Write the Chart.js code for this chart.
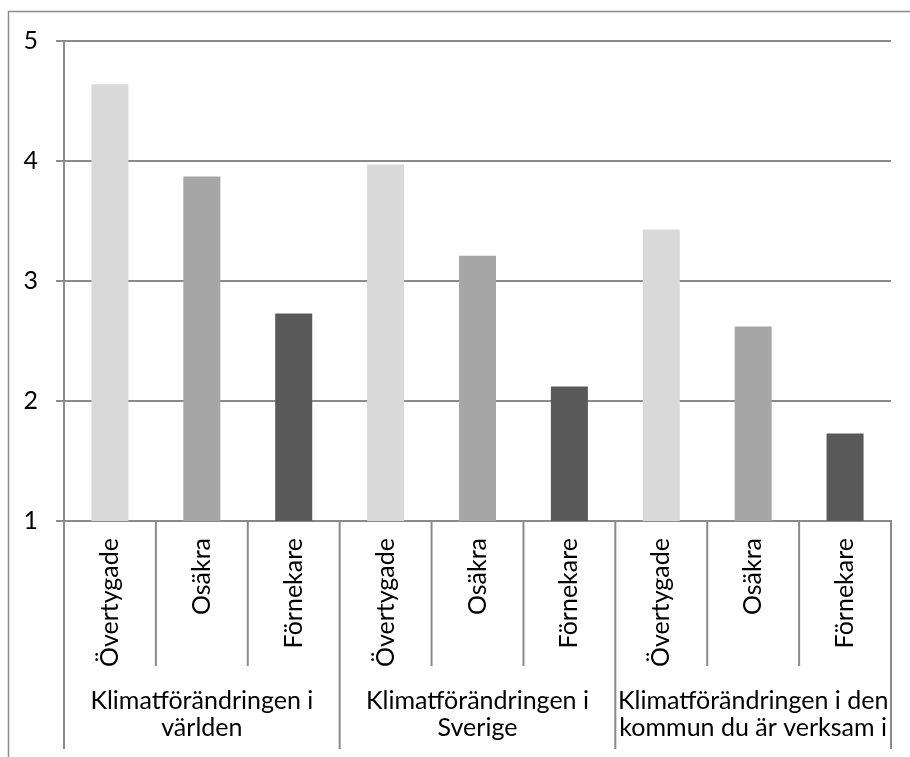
<!DOCTYPE html>
<html>
<head>
<meta charset="utf-8">
<script src="https://cdn.jsdelivr.net/npm/chart.js@4"></script>
<style>
  html, body { margin: 0; padding: 0; background: #ffffff; }
  #wrap { width: 910px; height: 757px; position: relative; }
</style>
</head>
<body>
<div id="wrap"><canvas id="c" width="910" height="757"></canvas></div>
<script>
// ---- data ----
const groupLabels = [
  ["Klimatförändringen i", "världen"],
  ["Klimatförändringen i", "Sverige"],
  ["Klimatförändringen i den", "kommun du är verksam i"]
];
const subCategories = ["Övertygade", "Osäkra", "Förnekare"];
const overtygade = [4.64, 3.97, 3.43];
const osakra = [3.87, 3.21, 2.62];
const fornekare = [2.73, 2.12, 1.73];
const yTicks = [1, 2, 3, 4, 5];

// ---- build ----
const FONT = "Lato";
const FSIZE = 25;
const series = [overtygade, osakra, fornekare];
const colors = ["#d9d9d9", "#a6a6a6", "#595959"];
const labels = [], values = [], barColors = [];
groupLabels.forEach((g, gi) => {
  subCategories.forEach((s, si) => {
    labels.push(s);
    values.push(series[si][gi]);
    barColors.push(colors[si]);
  });
});

const LINE = "#8a8a8a";

const multiLevel = {
  id: "multiLevel",
  beforeDraw(chart) {
    const ctx = chart.ctx;
    ctx.save();
    ctx.strokeStyle = LINE;
    ctx.lineWidth = 1.5;
    ctx.beginPath();
    ctx.moveTo(8.5, 757);
    ctx.lineTo(8.5, 11.5);
    ctx.lineTo(910, 11.5);
    ctx.stroke();
    ctx.restore();
  },
  afterDraw(chart) {
    const ctx = chart.ctx;
    const xs = chart.scales.x;
    const n = labels.length;
    const top = xs.top;
    const bounds = [];
    for (let i = 0; i <= n; i++) {
      let x;
      if (i === 0) x = chart.chartArea.left;
      else if (i === n) x = chart.chartArea.right;
      else x = (xs.getPixelForValue(i - 1) + xs.getPixelForValue(i)) / 2;
      bounds.push(x);
    }
    ctx.save();
    ctx.strokeStyle = LINE;
    ctx.lineWidth = 2;
    bounds.forEach((x, i) => {
      const isGroup = i % subCategories.length === 0;
      ctx.beginPath();
      ctx.moveTo(x, top);
      ctx.lineTo(x, top + (isGroup ? 228 : 145));
      ctx.stroke();
    });
    ctx.fillStyle = "#000";
    ctx.font = FSIZE + "px " + FONT;
    ctx.textAlign = "center";
    ctx.textBaseline = "middle";
    groupLabels.forEach((g, gi) => {
      const cx = (bounds[gi * 3] + bounds[gi * 3 + 3]) / 2;
      g.forEach((line, li) => {
        ctx.fillText(line, cx, top + 180 + li * 27);
      });
    });
    ctx.restore();
  }
};

new Chart(document.getElementById("c"), {
  type: "bar",
  data: {
    labels: labels,
    datasets: [{
      data: values,
      backgroundColor: barColors,
      borderWidth: 0,
      categoryPercentage: 1,
      barPercentage: 0.403
    }]
  },
  options: {
    responsive: false,
    animation: false,
    events: [],
    layout: { padding: { left: 0, top: 41, right: 19, bottom: 0 } },
    plugins: { legend: { display: false }, tooltip: { enabled: false } },
    scales: {
      x: {
        grid: { display: false, drawTicks: false },
        border: { display: true, color: LINE, width: 2 },
        ticks: {
          minRotation: 90, maxRotation: 90, padding: 17,
          color: "#000", font: { family: FONT, size: FSIZE },
          autoSkip: false
        },
        afterFit(s) { s.height = 236; }
      },
      y: {
        min: 1, max: 5,
        afterBuildTicks(s) { s.ticks = yTicks.map(v => ({ value: v })); },
        grid: { color: LINE, lineWidth: 2, tickLength: 8, drawTicks: true },
        border: { display: true, color: LINE, width: 2 },
        ticks: { color: "#000", padding: 18, font: { family: FONT, size: FSIZE } },
        afterFit(s) { s.width = 64; }
      }
    }
  },
  plugins: [multiLevel]
});
</script>
</body>
</html>
